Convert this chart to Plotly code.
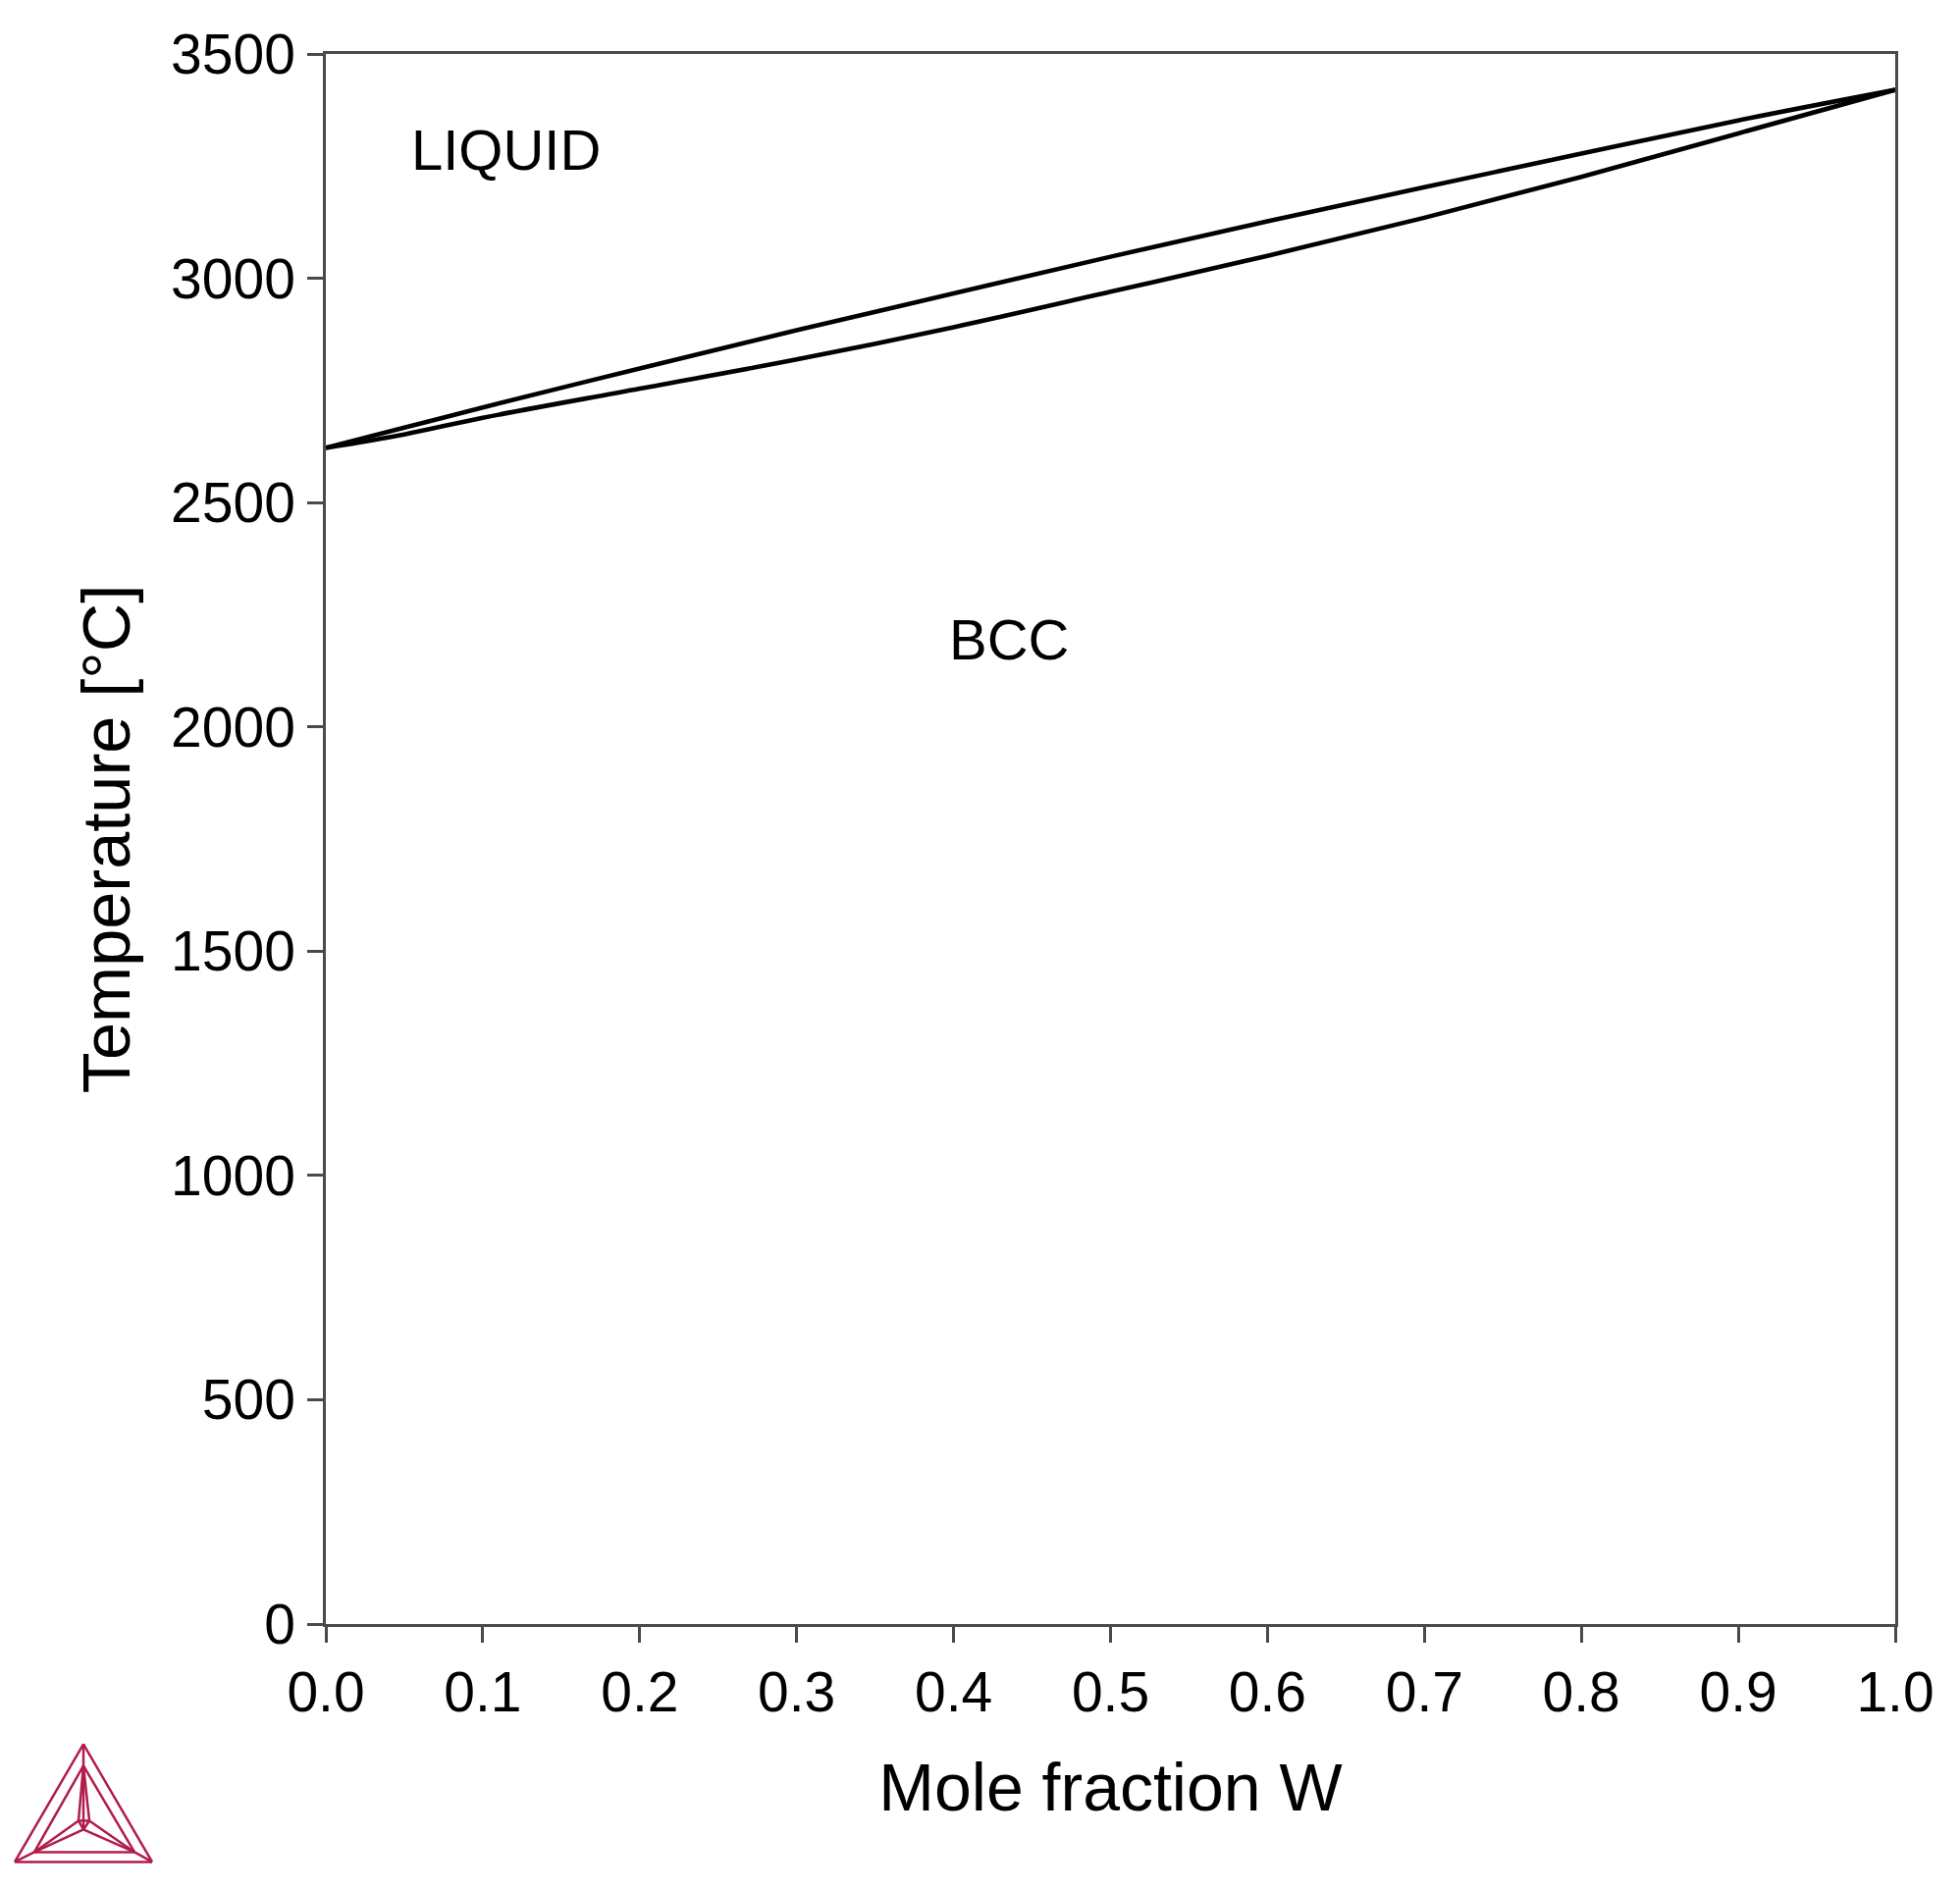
import plotly.graph_objects as go

mole_fraction = [0.0, 0.05, 0.1, 0.2, 0.3, 0.4, 0.5, 0.6, 0.7, 0.8, 0.9, 1.0]
liquidus = [2622, 2667, 2712, 2799, 2884, 2966, 3048, 3127, 3203, 3278, 3352, 3420]
solidus = [2622, 2652, 2689, 2754, 2819, 2891, 2970, 3050, 3135, 3226, 3323, 3420]
x_ticks = [0.0, 0.1, 0.2, 0.3, 0.4, 0.5, 0.6, 0.7, 0.8, 0.9, 1.0]
y_ticks = [0, 500, 1000, 1500, 2000, 2500, 3000, 3500]
x_title = "Mole fraction W"
y_title = "Temperature [°C]"
phase_labels = ["LIQUID", "BCC"]
phase_x = [0.115, 0.435]
phase_y = [3287, 2195]

OFF = 8  # default page margin of the written html
W, H = 1997 - OFF, 1924 - OFF
L, R, T, B = 332 - OFF, 1931 - OFF, 55 - OFF, 1655.5 - OFF
FONT = "Liberation Sans"
LOGO = "#b11c4a"
INK = "#000000"

fig = go.Figure()
for name, ys in (("Liquidus", liquidus), ("Solidus", solidus)):
    fig.add_trace(go.Scatter(x=mole_fraction, y=ys, mode="lines", name=name,
                             line=dict(color="black", width=4.6, shape="spline", smoothing=1.0),
                             cliponaxis=False))

axis = dict(showgrid=False, zeroline=False, showline=True, mirror=True, linecolor="#4a4a4a",
            linewidth=2.5, ticks="outside", ticklen=16, tickwidth=2.5, tickcolor="#4a4a4a",
            tickfont=dict(family=FONT, size=57, color=INK))
fig.update_xaxes(axis, range=[0, 1], tickvals=x_ticks, tickformat=".1f", ticklabelstandoff=2,
                 title=dict(text=x_title, font=dict(family=FONT, size=68, color=INK), standoff=43))
fig.update_yaxes(axis, range=[0, 3500], tickvals=y_ticks, ticklabelstandoff=1,
                 title=dict(text=y_title, font=dict(family=FONT, size=68.5, color=INK), standoff=20))

for t, x, y in zip(phase_labels, phase_x, phase_y):
    fig.add_annotation(x=x, y=y, text=t, showarrow=False,
                       font=dict(family=FONT, size=58, color=INK))


def px(p):
    return (p[0] - OFF - L) / (R - L), (B - (p[1] - OFF)) / (B - T)


A0, A1, A2 = (85, 1778), (15, 1898), (155, 1898)
I0, I1, I2 = (85, 1800), (35, 1888), (137, 1888)
C0, C1, C2 = (80, 1856), (91, 1856), (85, 1865)
segments = [(A0, A1), (A1, A2), (A2, A0), (I0, I1), (I1, I2), (I2, I0), (A0, I0), (A1, I1), (A2, I2),
            (I0, C0), (I0, C1), (I0, C2), (I1, C0), (I1, C2), (I2, C1), (I2, C2), (C0, C1), (C1, C2), (C2, C0)]
for a, b in segments:
    xa, ya = px(a)
    xb, yb = px(b)
    fig.add_shape(type="line", xref="paper", yref="paper", x0=xa, y0=ya, x1=xb, y1=yb,
                  line=dict(color=LOGO, width=2.5), layer="above")

fig.update_layout(width=W, height=H, autosize=False, showlegend=False,
                  paper_bgcolor="white", plot_bgcolor="white",
                  margin=dict(l=L, r=W - R, t=T, b=H - B, autoexpand=False))
fig.write_html("out.html")
